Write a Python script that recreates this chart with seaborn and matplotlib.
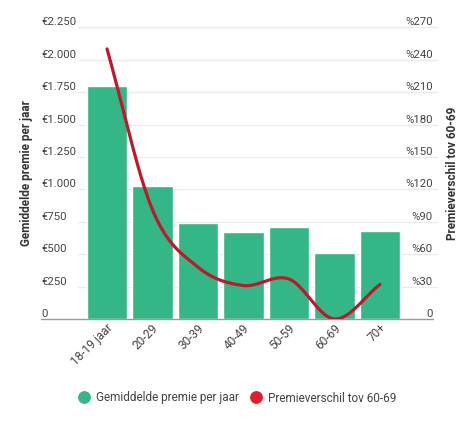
import numpy as np
import pandas as pd
import matplotlib
matplotlib.use("Agg")
import matplotlib.pyplot as plt
from matplotlib.lines import Line2D
import matplotlib.transforms as mtransforms
import seaborn as sns

categories = ["18-19 jaar", "20-29", "30-39", "40-49", "50-59", "60-69", "70+"]
premie = [1800, 1025, 737, 673, 706, 511, 680]
verschil = [250, 101, 48, 31, 37, 0, 32]
left_ticks = [0, 250, 500, 750, 1000, 1250, 1500, 1750, 2000, 2250]
left_labels = ["0", "€250", "€500", "€750", "€1.000", "€1.250", "€1.500", "€1.750", "€2.000", "€2.250"]
right_ticks = [0, 30, 60, 90, 120, 150, 180, 210, 240, 270]
right_labels = ["0", "%30", "%60", "%90", "%120", "%150", "%180", "%210", "%240", "%270"]

GREEN = "#33b786"
RED = "#c0172d"
TXT = "#444444"

sns.set_theme(style="white")
plt.rcParams["font.family"] = ["Roboto", "DejaVu Sans"]

W, H = 467, 428
fig = plt.figure(figsize=(W / 100, H / 100), dpi=100)
ax_l, ax_r, ax_b, ax_t = 82, 405, 319, 27.3
ax = fig.add_axes([ax_l / W, 1 - ax_b / H, (ax_r - ax_l) / W, (ax_b - ax_t) / H])

df = pd.DataFrame({"cat": categories, "premie": premie})
sns.barplot(data=df, x="cat", y="premie", color=GREEN, saturation=1, width=0.89, ax=ax, zorder=3)
ax.set_xlim(-0.55, 6.55)
ax.set_ylim(0, 2250)

axw = ax_r - ax_l
for t in left_ticks[1:]:
    ax.axhline(t, xmin=(78 - ax_l) / axw, xmax=(437 - ax_l) / axw, color="#ebebeb", lw=0.9,
               clip_on=False, zorder=0)
ax.axhline(0, xmin=(41 - ax_l) / axw, xmax=(433 - ax_l) / axw, color="#9a9a9a", lw=1.0,
           clip_on=False, zorder=4)

for s in ax.spines.values():
    s.set_visible(False)

ax.set_yticks(left_ticks)
ax.set_yticklabels(left_labels)
ax.tick_params(axis="y", length=0, pad=(ax_l - 41) * 0.72, labelsize=8.2, labelcolor=TXT)
for lab in ax.get_yticklabels():
    lab.set_horizontalalignment("left")
    lab.set_verticalalignment("bottom")

ax.set_xlabel("")
ax.set_ylabel("Gemiddelde premie per jaar", fontsize=8.5, fontweight="bold", color="#333333")
ax.yaxis.set_label_coords((33 - ax_l) / axw, 0.5)
ax.tick_params(axis="x", length=0, pad=5, labelsize=8.6, labelcolor=TXT)
offset = mtransforms.ScaledTranslation(4 / 100, 0, fig.dpi_scale_trans)
for lab in ax.get_xticklabels():
    lab.set_rotation(45)
    lab.set_horizontalalignment("right")
    lab.set_rotation_mode("anchor")
    lab.set_verticalalignment("center")
    lab.set_transform(lab.get_transform() + offset)

# secondary axis with smoothed line
ax2 = ax.twinx()
ax2.set_ylim(0, 270)
xp = np.arange(len(verschil), dtype=float)
yp = np.array(verschil, dtype=float)
# Catmull-Rom smoothing for rendering only
ext = np.concatenate([[2 * yp[0] - yp[1]], yp, [2 * yp[-1] - yp[-2]]])
xs, ys = [], []
for i in range(len(yp) - 1):
    p0, p1, p2, p3 = ext[i], ext[i + 1], ext[i + 2], ext[i + 3]
    t = np.linspace(0, 1, 40, endpoint=(i == len(yp) - 2))
    y = 0.5 * ((2 * p1) + (-p0 + p2) * t + (2 * p0 - 5 * p1 + 4 * p2 - p3) * t ** 2
               + (-p0 + 3 * p1 - 3 * p2 + p3) * t ** 3)
    xs.extend(xp[i] + t)
    ys.extend(y)
sns.lineplot(x=np.array(xs), y=np.array(ys), ax=ax2, color=RED, lw=2.3, sort=False, zorder=5)
ax2.set_xlim(-0.55, 6.55)
for s in ax2.spines.values():
    s.set_visible(False)
ax2.set_yticks(right_ticks)
ax2.set_yticklabels(right_labels)
ax2.tick_params(axis="y", length=0, pad=(433 - ax_r) * 0.72, labelsize=8.2, labelcolor=TXT)
for lab in ax2.get_yticklabels():
    lab.set_horizontalalignment("right")
    lab.set_verticalalignment("bottom")
ax2.set_ylabel("Premieverschil tov 60-69", fontsize=8.5, fontweight="bold", color="#333333")
ax2.yaxis.set_label_coords((446 - ax_l) / axw, 0.5)
ax2.grid(False)
ax.grid(False)

handles = [
    Line2D([], [], marker="o", linestyle="", markersize=8.2, markerfacecolor=GREEN, markeredgecolor=GREEN),
    Line2D([], [], marker="o", linestyle="", markersize=8.2, markerfacecolor="#e51d2a", markeredgecolor="#e51d2a"),
]
fig.legend(handles, ["Gemiddelde premie per jaar", "Premieverschil tov 60-69"], loc="center",
           bbox_to_anchor=(237.5 / W, 1 - 398 / H), ncol=2, frameon=False, fontsize=8.5,
           handlelength=1.0, handletextpad=0.5, columnspacing=0.94, labelcolor=TXT)

fig.savefig("out.png", dpi=100, facecolor="white")
